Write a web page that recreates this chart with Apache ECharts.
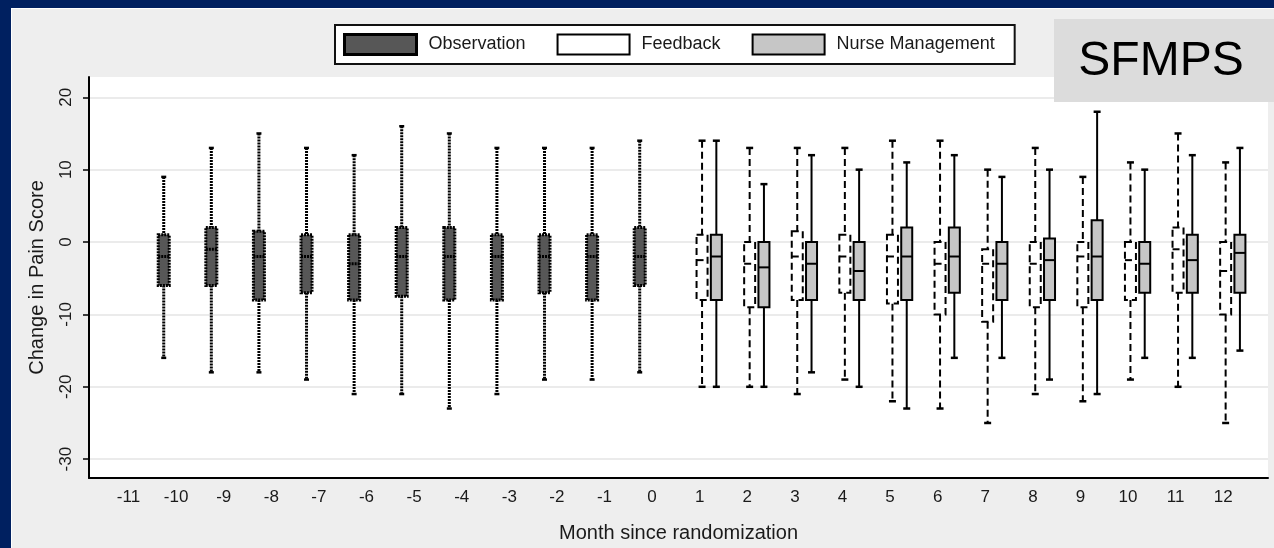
<!DOCTYPE html>
<html>
<head>
  <meta charset="utf-8">
  <script src="https://cdn.jsdelivr.net/npm/echarts@6/dist/echarts.min.js"></script>
</head>
<body style="margin: 0; background: #002060">
  <div id="container" style="width: 1274px; height: 548px"></div>
  <script type="text/javascript">
    // month labels on the x axis, score ticks on the y axis
    var monthTicks = [-11, -10, -9, -8, -7, -6, -5, -4, -3, -2, -1, 0, 1, 2, 3, 4, 5, 6, 7, 8, 9, 10, 11, 12];
    var scoreTicks = [-30, -20, -10, 0, 10, 20];

    // box stats per month: [min, q1, median, q3, max]
    var obsMonths = [-10, -9, -8, -7, -6, -5, -4, -3, -2, -1, 0];
    var obsStats = [
      [-16, -6, -2, 1, 9],
      [-18, -6, -1, 2, 13],
      [-18, -8, -2, 1.5, 15],
      [-19, -7, -2, 1, 13],
      [-21, -8, -3, 1, 12],
      [-21, -7.5, -2, 2, 16],
      [-23, -8, -2, 2, 15],
      [-21, -8, -2, 1, 13],
      [-19, -7, -2, 1, 13],
      [-19, -8, -2, 1, 13],
      [-18, -6, -2, 2, 14]
    ];

    var trialMonths = [1, 2, 3, 4, 5, 6, 7, 8, 9, 10, 11, 12];
    var feedbackStats = [
      [-20, -8, -2.5, 1, 14],
      [-20, -9, -3, 0, 13],
      [-21, -8, -2, 1.5, 13],
      [-19, -7, -2, 1, 13],
      [-22, -8.5, -2, 1, 14],
      [-23, -10, -3, 0, 14],
      [-25, -11, -3, -1, 10],
      [-21, -9, -3, 0, 13],
      [-22, -9, -2, 0, 9],
      [-19, -8, -2.5, 0, 11],
      [-20, -7, -1, 2, 15],
      [-25, -10, -4, 0, 11]
    ];
    var nurseStats = [
      [-20, -8, -2, 1, 14],
      [-20, -9, -3.5, 0, 8],
      [-18, -8, -3, 0, 12],
      [-20, -8, -4, 0, 10],
      [-23, -8, -2, 2, 11],
      [-16, -7, -2, 2, 12],
      [-16, -8, -3, 0, 9],
      [-19, -8, -2.5, 0.5, 10],
      [-21, -8, -2, 3, 18],
      [-16, -7, -3, 0, 10],
      [-16, -7, -2.5, 1, 12],
      [-15, -7, -1.5, 1, 13]
    ];

    function rows(months, stats) {
      return months.map(function (m, i) { return [m].concat(stats[i]); });
    }

    // draws one box; offset is a fraction of one month
    function boxRenderer(offset, look) {
      return function (params, api) {
        var m = api.value(0);
        var unit = api.size([1, 0])[0];
        var cx = api.coord([m, 0])[0] + offset * unit;
        function y(i) { return api.coord([m, api.value(i)])[1]; }
        var yMin = y(1), yQ1 = y(2), yMed = y(3), yQ3 = y(4), yMax = y(5);
        var hw = 5.5, cw = look.cap;
        var dashed = { stroke: '#000', lineWidth: look.width, lineDash: look.dash };
        var solid = { stroke: '#000', lineWidth: look.capWidth };
        return {
          type: 'group',
          children: [
            { type: 'line', shape: { x1: cx, y1: yMax, x2: cx, y2: yQ3 }, style: dashed },
            { type: 'line', shape: { x1: cx, y1: yQ1, x2: cx, y2: yMin }, style: dashed },
            { type: 'line', shape: { x1: cx - cw, y1: yMax, x2: cx + cw, y2: yMax }, style: solid },
            { type: 'line', shape: { x1: cx - cw, y1: yMin, x2: cx + cw, y2: yMin }, style: solid },
            {
              type: 'rect',
              shape: { x: cx - hw, y: yQ3, width: hw * 2, height: yQ1 - yQ3 },
              style: { fill: look.fill, stroke: '#000', lineWidth: look.width, lineDash: look.dash }
            },
            { type: 'line', shape: { x1: cx - hw, y1: yMed, x2: cx + hw, y2: yMed }, style: dashed }
          ]
        };
      };
    }

    var obsLook = { fill: '#575757', width: 3, dash: [2, 1], cap: 2.5, capWidth: 2.5 };
    var fbLook = { fill: '#ffffff', width: 2, dash: [7, 4], cap: 3.5, capWidth: 2.5 };
    var nmLook = { fill: '#c6c6c6', width: 2, dash: null, cap: 3.5, capWidth: 2.5 };

    var myChart = echarts.init(document.getElementById('container'));

    var option = {
      backgroundColor: '#eeeeee',
      animation: false,
      textStyle: { fontFamily: 'Liberation Sans, Arial, sans-serif', color: '#1a1a1a' },
      grid: {
        left: 89, top: 77, right: 6, bottom: 70,
        show: true, backgroundColor: '#ffffff', borderWidth: 0,
        outerBoundsMode: 'none'
      },
      legend: {
        left: 335, top: 25,
        padding: [8, 20, 8, 8],
        itemWidth: 72, itemHeight: 20, itemGap: 31,
        backgroundColor: '#ffffff', borderColor: '#111', borderWidth: 2,
        icon: 'rect',
        selectedMode: false,
        textStyle: { fontSize: 18, color: '#1a1a1a', padding: [0, 0, 0, 7] },
        data: [
          { name: 'Observation', itemStyle: { color: '#575757', borderColor: '#000', borderWidth: 3 } },
          { name: 'Feedback', itemStyle: { color: '#ffffff', borderColor: '#000', borderWidth: 2 } },
          { name: 'Nurse Management', itemStyle: { color: '#c6c6c6', borderColor: '#000', borderWidth: 2 } }
        ]
      },
      xAxis: {
        type: 'value',
        min: -11.83, max: 12.94,
        name: 'Month since randomization',
        nameLocation: 'middle', nameGap: 45,
        nameTextStyle: { fontSize: 20, color: '#1a1a1a' },
        axisLine: { onZero: false, lineStyle: { color: '#000', width: 2 } },
        axisTick: { show: false },
        axisLabel: { customValues: monthTicks, fontSize: 17, color: '#1a1a1a', margin: 11 },
        splitLine: { show: false }
      },
      yAxis: {
        type: 'value',
        min: -32.6, max: 22.8,
        name: 'Change in Pain Score',
        nameLocation: 'middle', nameGap: 42,
        nameTextStyle: { fontSize: 20, color: '#1a1a1a' },
        axisLine: { show: true, onZero: false, lineStyle: { color: '#000', width: 2 } },
        axisTick: { show: true, customValues: scoreTicks, length: 6, lineStyle: { color: '#000', width: 1.5 } },
        axisLabel: { customValues: scoreTicks, rotate: 90, fontSize: 17, color: '#1a1a1a', margin: 14 },
        splitLine: { show: true, lineStyle: { color: '#e4e4e4', width: 1.5 } }
      },
      graphic: [
        { type: 'rect', shape: { x: 0, y: 0, width: 1274, height: 8 }, style: { fill: '#002060' }, z: 100 },
        { type: 'rect', shape: { x: 0, y: 0, width: 11, height: 548 }, style: { fill: '#002060' }, z: 100 },
        { type: 'rect', shape: { x: 11, y: 8, width: 1263, height: 1 }, style: { fill: '#ffffff' }, z: 100 },
        { type: 'rect', shape: { x: 11, y: 8, width: 1, height: 540 }, style: { fill: '#ffffff' }, z: 100 },
        { type: 'rect', shape: { x: 1054, y: 19, width: 220, height: 83 }, style: { fill: '#dcdcdc' }, z: 100 },
        {
          type: 'text', x: 1161, y: 62, z: 101,
          style: {
            text: 'SFMPS', fill: '#000', font: '48px Liberation Sans, Arial, sans-serif',
            align: 'center', verticalAlign: 'middle'
          }
        }
      ],
      series: [
        {
          name: 'Observation', type: 'custom',
          itemStyle: { color: '#575757' },
          renderItem: boxRenderer(-0.26, obsLook),
          encode: { x: 0, y: [1, 2, 3, 4, 5] },
          data: rows(obsMonths, obsStats)
        },
        {
          name: 'Feedback', type: 'custom',
          itemStyle: { color: '#ffffff' },
          renderItem: boxRenderer(0.05, fbLook),
          encode: { x: 0, y: [1, 2, 3, 4, 5] },
          data: rows(trialMonths, feedbackStats)
        },
        {
          name: 'Nurse Management', type: 'custom',
          itemStyle: { color: '#c6c6c6' },
          renderItem: boxRenderer(0.35, nmLook),
          encode: { x: 0, y: [1, 2, 3, 4, 5] },
          data: rows(trialMonths, nurseStats)
        }
      ]
    };

    myChart.setOption(option);
    window.addEventListener('resize', myChart.resize);
  </script>
</body>
</html>
